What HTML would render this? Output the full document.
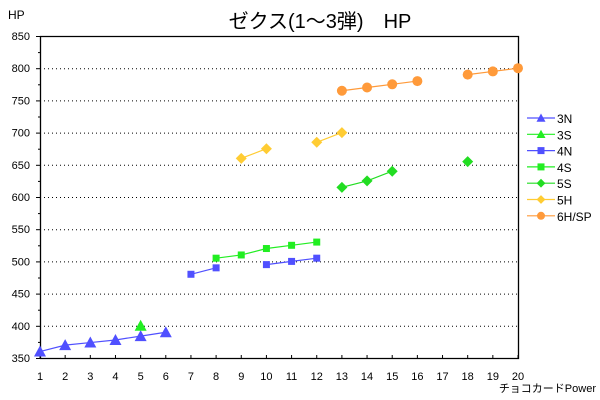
<!DOCTYPE html>
<html><head><meta charset="utf-8"><style>
body{margin:0;background:#fff;}
svg{display:block;font-family:"Liberation Sans","Noto Sans CJK JP",sans-serif;}
</style></head><body>
<svg id="chart" width="600" height="400" viewBox="0 0 600 400">
<text x="320" y="28" font-size="20" text-anchor="middle" style="white-space:pre">ゼクス(1～3弾)　HP</text>
<text x="8" y="19" font-size="12">HP</text>
<text x="596" y="392" font-size="11" text-anchor="end">チョコカードPower</text>
<g id="grid"></g><g id="axes"></g><g id="series"></g><g id="legend"></g>
</svg>
<script>
const xTicks=[1,2,3,4,5,6,7,8,9,10,11,12,13,14,15,16,17,18,19,20];
const yTicks=[350,400,450,500,550,600,650,700,750,800,850];
const seriesNames=["3N","3S","4N","4S","5S","5H","6H/SP"];
const s3N=[[1,360],[2,370],[3,374],[4,378],[5,384],[6,390]];
const s3S=[[5,400]];
const s4N=[[7,480],[8,490],null,[10,495],[11,500],[12,505]];
const s4S=[[8,505],[9,510],[10,520],[11,525],[12,530]];
const s5S=[[13,615],[14,625],[15,640],null,[18,655]];
const s5H=[[9,660],[10,675],null,[12,685],[13,700]];
const s6H=[[13,765],[14,770],[15,775],[16,780],null,[18,790],[19,795],[20,800]];
const NS="http://www.w3.org/2000/svg";
const X0=40,X1=518,Y0=358,Y1=36;
const xs=v=>X0+(v-1)*(X1-X0)/19;
const ys=v=>Y0-(v-350)*(Y0-Y1)/500;
function mk(tag,attrs,parent){const e=document.createElementNS(NS,tag);for(const k in attrs)e.setAttribute(k,attrs[k]);parent.appendChild(e);return e;}
const grid=document.getElementById('grid'),axes=document.getElementById('axes'),ser=document.getElementById('series'),leg=document.getElementById('legend');
yTicks.forEach(v=>{
 if(v>350&&v<850){const l=mk('line',{x1:X0,x2:X1,y1:ys(v)+.5,y2:ys(v)+.5,stroke:'#000','stroke-dasharray':'1 3'},grid);
 
 }
 const t=mk('text',{x:30,y:ys(v)+4,'font-size':11,'text-anchor':'end'},axes);t.textContent=v;
 
 
 mk('line',{x1:X0-4,x2:X0,y1:ys(v)+.5,y2:ys(v)+.5,stroke:'#000'},axes);
 if(v<850)mk('line',{x1:X0-2,x2:X0,y1:ys(v+25)+.5,y2:ys(v+25)+.5,stroke:'#000'},axes);
});
xTicks.forEach(v=>{
 const t=mk('text',{x:xs(v),y:380,'font-size':11,'text-anchor':'middle'},axes);t.textContent=v;
 
 
 mk('line',{x1:xs(v),x2:xs(v),y1:Y0,y2:Y0-3,stroke:'#000'},axes);
});
const frame=mk('path',{d:`M${X0+.5} ${Y0} V${Y1+.5} H${X1+.5} V${Y0+.5} H${X0}`,fill:'none',stroke:'#000','stroke-width':1.3},axes);


const defs=[[s3N,'#5050ff','tri'],[s3S,'#22ee22','tri'],[s4N,'#5050ff','sq'],[s4S,'#22ee22','sq'],[s5S,'#22dd22','dia'],[s5H,'#ffcc33','dia'],[s6H,'#ff9a3a','cir']];
function marker(shape,x,y,c,p){
 if(shape==='tri')return mk('polygon',{points:`${x},${y-6} ${x-6},${y+5} ${x+6},${y+5}`,fill:c},p);
 if(shape==='sq')return mk('rect',{x:x-3.5,y:y-3.5,width:7,height:7,fill:c},p);
 if(shape==='dia')return mk('polygon',{points:`${x},${y-5.5} ${x+5.5},${y} ${x},${y+5.5} ${x-5.5},${y}`,fill:c},p);
 return mk('circle',{cx:x,cy:y,r:5,fill:c},p);
}
defs.forEach(([data,c,shape],i)=>{
 const g=mk('g',{},ser);
 
 
 let seg=[];const segs=[];
 data.forEach(p=>{if(p)seg.push(p);else{segs.push(seg);seg=[];}});segs.push(seg);
 segs.forEach(s=>{if(s.length>1){mk('polyline',{points:s.map(p=>xs(p[0])+','+ys(p[1])).join(' '),fill:'none',stroke:c,'stroke-width':1.2},g);}});
 data.forEach(p=>{if(!p)return;const m=marker(shape,xs(p[0]),ys(p[1]),c,g);
  
  });
 const ly=118+i*16.3;
 const lg=mk('g',{},leg);
 
 
 mk('line',{x1:527,x2:555,y1:ly,y2:ly,stroke:c,'stroke-width':1.2},lg);
 const lm=marker(shape,541,ly,c,lg);
 if(shape==='tri')lm.setAttribute('transform','translate(541 '+ly+') scale(0.75) translate(-541 '+(-ly)+')');
 else if(shape!=='sq')lm.setAttribute('transform','translate(541 '+ly+') scale(0.8) translate(-541 '+(-ly)+')');
 const t=mk('text',{x:557,y:ly+5,'font-size':12},lg);t.textContent=seriesNames[i];
});
</script>
</body></html>
